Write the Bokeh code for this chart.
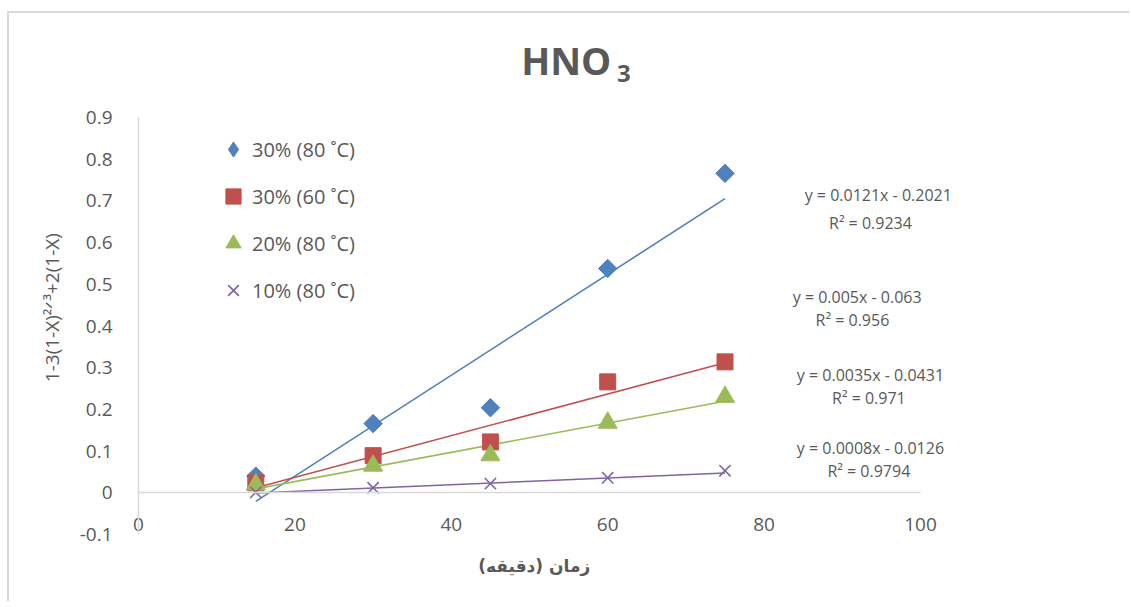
import math
from bokeh.plotting import figure
from bokeh.models import Range1d, FixedTicker, Label, Legend, LegendItem
from bokeh.embed import file_html
from bokeh.resources import INLINE

# ---------------- data ----------------
time_min = [15, 30, 45, 60, 75]
acid30_80 = [0.040, 0.166, 0.204, 0.538, 0.766]
acid30_60 = [0.024, 0.089, 0.122, 0.266, 0.314]
acid20_80 = [0.020, 0.065, 0.090, 0.168, 0.230]
acid10_80 = [0.001, 0.012, 0.022, 0.036, 0.053]
series_names = ["30% (80 ˚C)", "30% (60 ˚C)", "20% (80 ˚C)", "10% (80 ˚C)"]
trend_slopes = [0.0121, 0.005, 0.0035, 0.0008]
trend_intercepts = [-0.2021, -0.063, -0.0431, -0.0126]
trend_eq_text = ["y = 0.0121x - 0.2021", "y = 0.005x - 0.063",
                 "y = 0.0035x - 0.0431", "y = 0.0008x - 0.0126"]
trend_r2_text = ["R² = 0.9234", "R² = 0.956", "R² = 0.971", "R² = 0.9794"]
x_ticks = [0, 20, 40, 60, 80, 100]
y_ticks = [-0.1, 0, 0.1, 0.2, 0.3, 0.4, 0.5, 0.6, 0.7, 0.8, 0.9]

# ---------------- styles / layout ----------------
colors = ["#4f81bd", "#c0504d", "#9bbb59", "#8064a2"]
TXT = "#595959"
AX = "#d9d9d9"
FONT = "Open Sans"

W, H = 1122, 590
# plot area in canvas pixels: x 0..100 -> 129..911, y -0.1..0.9 -> 521..104
PX_X = (911 - 129) / 100.0
PX_Y = (521 - 104) / 1.0
x0 = 0 - 129 / PX_X
x1 = 100 + (W - 911) / PX_X
y0 = -0.1 - (H - 521) / PX_Y
y1 = 0.9 + 104 / PX_Y

p = figure(width=W, height=H, output_backend="svg", toolbar_location=None,
           x_range=Range1d(x0, x1), y_range=Range1d(y0, y1),
           min_border=0,
           styles={"margin-left": "7px", "margin-top": "11px",
                   "border-left": "2px solid #d9d9d9", "border-top": "2px solid #d9d9d9"})
p.outline_line_color = None
p.grid.visible = False
p.background_fill_color = "white"
p.border_fill_color = "white"

# x axis crossing at y = 0
xa = p.xaxis[0]
xa.fixed_location = 0
xa.bounds = (0, 100)
xa.ticker = FixedTicker(ticks=x_ticks)
xa.axis_line_color = AX
xa.axis_line_width = 1.5
xa.major_tick_line_color = None
xa.minor_tick_line_color = None
xa.major_label_standoff = 19
xa.major_label_text_font = FONT
xa.major_label_text_font_size = "19px"
xa.major_label_text_color = TXT

ya = p.yaxis[0]
ya.fixed_location = 0
ya.bounds = (-0.1, 0.9)
ya.ticker = FixedTicker(ticks=y_ticks)
ya.major_label_overrides = {0: "0", -0.1: "-0.1"}
ya.axis_line_color = AX
ya.axis_line_width = 1.5
ya.major_tick_line_color = None
ya.minor_tick_line_color = None
ya.major_label_standoff = 20
ya.major_label_text_font = FONT
ya.major_label_text_font_size = "19px"
ya.major_label_text_color = TXT

all_series = [acid30_80, acid30_60, acid20_80, acid10_80]
for i, ys in enumerate(all_series):
    xs_fit = [time_min[0], time_min[-1]]
    ys_fit = [trend_slopes[i] * xv + trend_intercepts[i] for xv in xs_fit]
    p.line(xs_fit, ys_fit, line_color=colors[i], line_width=1.6)

# diamond key renderer (legend swatches ignore marker angle); sits under the rotated squares
r_blue_key = p.scatter(time_min, acid30_80, marker="diamond", size=16,
                       fill_color=colors[0], line_color=colors[0])
r_blue = p.scatter(time_min, acid30_80, marker="square", angle=math.pi / 4, size=13,
                   fill_color=colors[0], line_color=colors[0])
r_red = p.scatter(time_min, acid30_60, marker="square", size=16,
                  fill_color=colors[1], line_color=colors[1])
r_green = p.scatter(time_min, acid20_80, marker="triangle", size=19,
                    fill_color=colors[2], line_color=colors[2])
r_purple = p.scatter(time_min, acid10_80, marker="x", size=16,
                     line_color=colors[3], line_width=1.6)

legend_renderers = [[r_blue_key], [r_red], [r_green], [r_purple]]
legend = Legend(items=[LegendItem(label=series_names[i], renderers=legend_renderers[i]) for i in range(4)],
                location=(205, 294), orientation="vertical")
legend.border_line_color = None
legend.background_fill_alpha = 0
legend.padding = 0
legend.margin = 0
legend.spacing = 9
legend.glyph_width = 38
legend.glyph_height = 38
legend.label_height = 20
legend.label_standoff = 0
legend.label_text_font = FONT
legend.label_text_font_size = "20px"
legend.label_text_color = TXT
p.add_layout(legend, "center")

# trendline equations
eq_pos = [(94.6, 0.713), (91.9, 0.470), (93.6, 0.283), (93.6, 0.108)]
r2_pos = [(93.6, 0.648), (91.3, 0.415), (93.4, 0.228), (93.4, 0.053)]
for i in range(4):
    p.add_layout(Label(x=eq_pos[i][0], y=eq_pos[i][1], text=trend_eq_text[i],
                       text_align="center", text_baseline="middle", text_font=FONT,
                       text_font_size="16px", text_color=TXT))
    p.add_layout(Label(x=r2_pos[i][0], y=r2_pos[i][1], text=trend_r2_text[i],
                       text_align="center", text_baseline="middle", text_font=FONT,
                       text_font_size="16px", text_color=TXT))

# title HNO3
p.add_layout(Label(x=54.7, y=1.039, text="HNO", text_align="center", text_baseline="middle",
                   text_font=FONT, text_font_size="38px", text_font_style="bold", text_color=TXT))
p.add_layout(Label(x=61.2, y=1.005, text="3", text_align="left", text_baseline="middle",
                   text_font=FONT, text_font_size="24px", text_font_style="bold", text_color=TXT))

# axis titles
p.add_layout(Label(x=-11.1, y=0.444, text="1-3(1-X)²ᐟ³+2(1-X)", angle=math.pi / 2,
                   text_align="center", text_baseline="middle", text_font=FONT,
                   text_font_size="19px", text_color=TXT))
p.add_layout(Label(x=50.6, y=-0.175, text="زمان (دقیقه)", text_align="center",
                   text_baseline="middle", text_font="DejaVu Sans", text_font_size="17px",
                   text_font_style="bold", text_color=TXT))

open("out.html", "w").write(file_html(p, INLINE))
